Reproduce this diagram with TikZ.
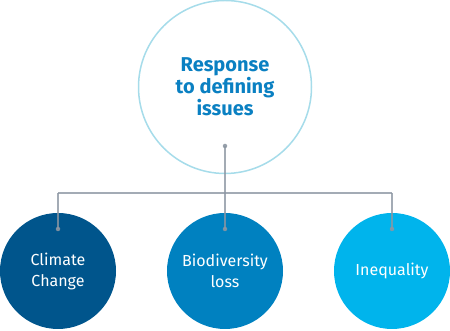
\documentclass[tikz,border=0pt]{standalone}
\usepackage{fontspec}
\setmainfont{Fira Sans}
\usepackage{xcolor}
\usetikzlibrary{positioning,calc}

\definecolor{ringblue}{HTML}{A6DCEA}
\definecolor{titleblue}{HTML}{0A80C2}
\definecolor{darkblue}{HTML}{00558C}
\definecolor{midblue}{HTML}{0081C0}
\definecolor{lightblue}{HTML}{00B4EC}
\definecolor{linkgray}{HTML}{8C96A2}

\tikzset{
    issue/.style={circle, minimum size=116pt, inner sep=0pt, text=white,
        align=center, font=\fontsize{16}{21}\selectfont},
    link/.style={linkgray, line width=1.2pt, opacity=0.8},
    pin/.style={circle, fill=linkgray, opacity=0.9, inner sep=0pt, minimum size=4.5pt}
}

\begin{document}
\begin{tikzpicture}[x=1pt, y=1pt]
    \useasboundingbox (0,0) rectangle (450,331);

    % Main circle
    \node[circle, draw=ringblue, line width=1.5pt, fill=white, minimum size=173pt,
        inner sep=0pt, align=center, text=titleblue,
        font=\fontsize{20}{22}\selectfont\bfseries] (resp) at (225,244)
        {Response\\to defining\\issues};

    % Issues
    \node[issue, fill=darkblue] (climate) at (58,60) {Climate\\Change};
    \node[issue, fill=midblue] (biodiv) at (225,60) {Biodiversity\\loss};
    \node[issue, fill=lightblue] (ineq) at (392,60) {Inequality};

    % Connectors
    \coordinate (top) at (225,185);
    \coordinate (barL) at (58,138);
    \coordinate (barR) at (392,138);
    \coordinate (pinL) at (58,102);
    \coordinate (pinM) at (225,102);
    \coordinate (pinR) at (392,102);
    \draw[link] (top) -- (pinM);
    \draw[link] (barL) -- (barR);
    \draw[link] (barL) -- (pinL);
    \draw[link] (barR) -- (pinR);
    \foreach \p in {top, pinL, pinM, pinR}
        \node[pin] at (\p) {};
\end{tikzpicture}
\end{document}
